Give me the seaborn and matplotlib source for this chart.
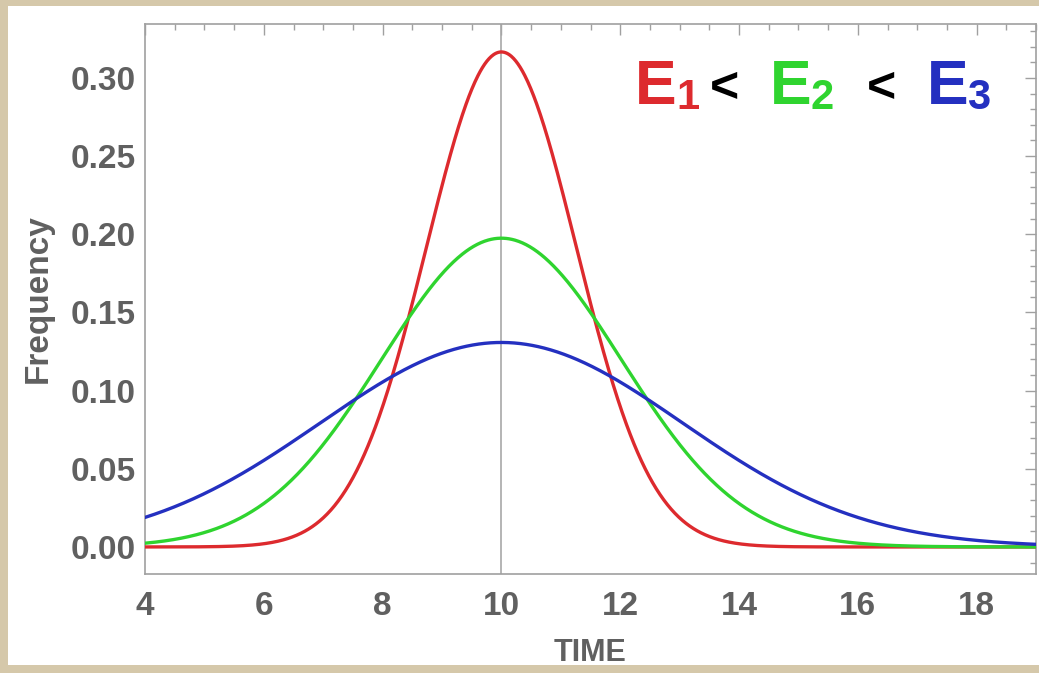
import numpy as np
import pandas as pd
import matplotlib
matplotlib.use("Agg")
import matplotlib.pyplot as plt
from matplotlib.patches import Rectangle
import seaborn as sns

# ---- data ----
series_names = ["E1", "E2", "E3"]
series_means = [10.0, 10.0, 10.0]
series_sigmas = [1.26, 2.02, 3.05]        # peaks ~0.317, ~0.198, ~0.131
series_colors = ["#dd2a2e", "#2fd42f", "#2430c0"]
x_ticks = [4, 6, 8, 10, 12, 14, 16, 18]
y_ticks = [0.00, 0.05, 0.10, 0.15, 0.20, 0.25, 0.30]
x_label = "TIME"
y_label = "Frequency"

x_grid = np.linspace(4, 19, 1200)
frames = []
for name, mu, sd in zip(series_names, series_means, series_sigmas):
    y = np.exp(-0.5 * ((x_grid - mu) / sd) ** 2) / (sd * np.sqrt(2 * np.pi))
    frames.append(pd.DataFrame({"x": x_grid, "y": y, "series": name}))
df = pd.concat(frames, ignore_index=True)

sns.set_style("white")
plt.rcParams["font.family"] = ["Liberation Sans", "DejaVu Sans"]

W, H = 1039, 673
fig = plt.figure(figsize=(W / 100, H / 100), dpi=100)
fig.patch.set_facecolor("#d5c8aa")
fig.patches.append(Rectangle((8 / W, 1 - 665 / H), 1 - 8 / W, (665 - 6) / H,
                             transform=fig.transFigure, facecolor="white",
                             edgecolor="none", zorder=-10))

ax = fig.add_axes([145 / W, 1 - 574 / H, (1036 - 145) / W, (574 - 24) / H])
ax.set_zorder(1)
ax.set_facecolor("white")

ax.axvline(10, color="#a8a8a8", lw=1.2, zorder=1)
sns.lineplot(data=df, x="x", y="y", hue="series", palette=series_colors,
             hue_order=series_names, linewidth=2.4, legend=False, ax=ax, zorder=3)

ax.set_xlim(4, 19)
ax.set_ylim(-0.0173, 0.3345)
ax.set_xticks(x_ticks)
ax.set_yticks(y_ticks)
ax.set_xticklabels([str(t) for t in x_ticks])
ax.set_yticklabels([f"{t:.2f}" for t in y_ticks])
ax.set_xticks(np.arange(4, 19.01, 0.5), minor=True)
ax.set_yticks(np.arange(-0.01, 0.335, 0.01), minor=True)

gray = "#606060"
ax.tick_params(axis="both", which="major", direction="in", length=8, width=1,
               color="#a0a0a0", top=True, right=True, labelsize=24,
               labelcolor=gray)
ax.tick_params(axis="both", which="minor", direction="in", length=4, width=1,
               color="#a0a0a0", top=True, right=True)
ax.tick_params(axis="x", which="major", pad=12)
ax.tick_params(axis="y", which="major", pad=7)
for lab in ax.get_xticklabels() + ax.get_yticklabels():
    lab.set_fontweight("bold")
for sp in ax.spines.values():
    sp.set_color("#a0a0a0")
    sp.set_linewidth(1.2)

ax.set_xlabel(x_label, fontsize=22, fontweight="bold", color=gray, labelpad=12)
ax.set_ylabel(y_label, fontsize=24, fontweight="bold", color=gray, labelpad=12)

# annotation "E1 < E2 < E3"
def ftxt(px, py, s, color, size):
    fig.text(px / W, 1 - py / H, s, color=color, fontsize=size,
             fontweight="bold", ha="left", va="baseline", zorder=5)

base = 104
ftxt(635, base, "E", series_colors[0], 45)
ftxt(676, base + 5, "1", series_colors[0], 30)
ftxt(710, base - 2, "<", "black", 36)
ftxt(770, base, "E", series_colors[1], 45)
ftxt(810, base + 5, "2", series_colors[1], 30)
ftxt(867, base - 2, "<", "black", 36)
ftxt(927, base, "E", series_colors[2], 45)
ftxt(967, base + 5, "3", series_colors[2], 30)

fig.savefig("out.png", dpi=100, facecolor=fig.get_facecolor())
